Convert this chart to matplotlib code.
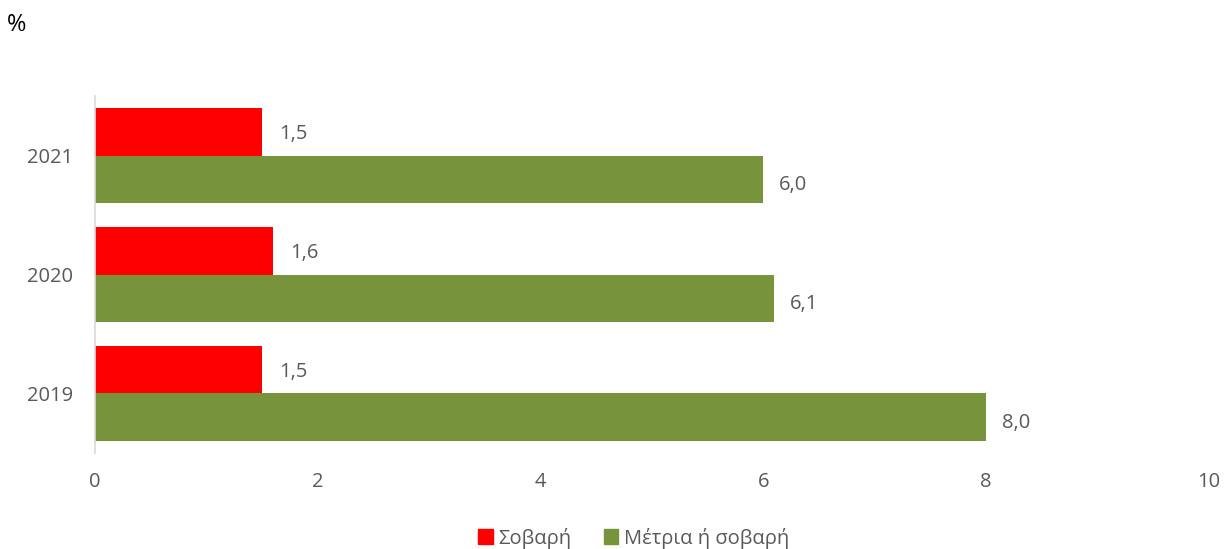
import matplotlib
matplotlib.use("Agg")
import matplotlib.pyplot as plt
from matplotlib.patches import Patch

years = ["2019", "2020", "2021"]
severe = [1.5, 1.6, 1.5]
moderate_or_severe = [8.0, 6.1, 6.0]
series_names = ["Σοβαρή", "Μέτρια ή σοβαρή"]
xticks = [0, 2, 4, 6, 8, 10]

plt.rcParams['font.family'] = ['Open Sans', 'DejaVu Sans']
gray = "#595959"
red = "#FF0000"
green = "#77933C"
fs = 14.5

fig = plt.figure(figsize=(12.26, 5.49), dpi=100)
ax = fig.add_axes([0.0775, 0.175, 0.9085, 0.65])

pos = list(range(len(years)))
h = 0.403
ax.barh([p + h / 2 for p in pos], severe, height=h, color=red)
ax.barh([p - h / 2 for p in pos], moderate_or_severe, height=h, color=green)

for p, v in zip(pos, severe):
    ax.text(v + 0.15, p + h / 2 - 0.02, f"{v:.1f}".replace(".", ","), va="center", ha="left",
            fontsize=fs, color=gray)
for p, v in zip(pos, moderate_or_severe):
    ax.text(v + 0.14, p - h / 2 - 0.05, f"{v:.1f}".replace(".", ","), va="center", ha="left",
            fontsize=fs, color=gray)

ax.set_xlim(0, 10)
ax.set_ylim(-0.5, 2.5)
ax.set_xticks(xticks)
ax.set_xticklabels([str(t) for t in xticks])
ax.set_yticks(pos)
ax.set_yticklabels(years)
ax.tick_params(axis="both", length=0, labelsize=fs, labelcolor=gray)
ax.tick_params(axis="x", pad=14)
ax.tick_params(axis="y", pad=16)
for s in ["top", "right", "bottom"]:
    ax.spines[s].set_visible(False)
ax.spines["left"].set_color("#D9D9D9")
ax.spines["left"].set_linewidth(1.2)

fig.text(0.006, 0.955, "%", fontsize=17, color="black", ha="left", va="center")

handles = [Patch(color=red, label=series_names[0]), Patch(color=green, label=series_names[1])]
fig.legend(handles=handles, loc="center", bbox_to_anchor=(0.517, 0.02), ncol=2, frameon=False,
           fontsize=fs, labelcolor=gray, handlelength=0.7, handleheight=0.7,
           handletextpad=0.3, columnspacing=1.6)

fig.savefig("out.png", dpi=100)
